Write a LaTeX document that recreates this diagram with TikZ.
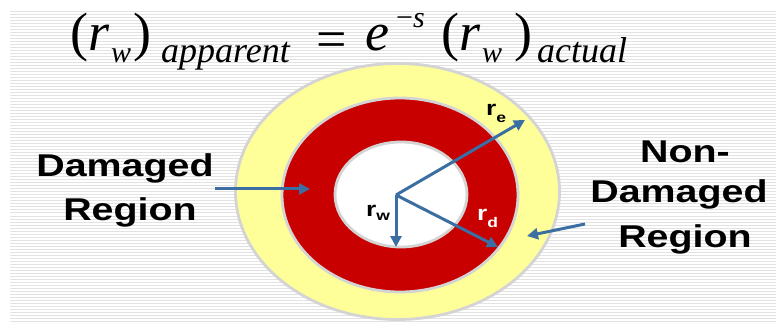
\documentclass[tikz,border=0pt]{standalone}
\usepackage{fontspec}
\usetikzlibrary{arrows.meta}
\newfontfamily\eqfont{Liberation Serif}
\newfontfamily\lblfont[FakeStretch=1.25]{Liberation Sans}
\definecolor{ringred}{HTML}{C80000}
\definecolor{ringyellow}{HTML}{FFFF99}
\definecolor{ringgray}{HTML}{D4D4D4}
\definecolor{arrowblue}{HTML}{3B6EA3}
\definecolor{stripegray}{HTML}{E2E2E2}
\begin{document}
\begin{tikzpicture}[x=1pt,y=-1pt,
  stripe/.style={stripegray, line width=1pt},
  ring/.style={draw=ringgray, line width=2.8pt},
  ptr/.style={arrowblue, line width=3pt, -{Triangle[length=11pt,width=11pt]}},
  eqbig/.style={inner sep=0pt, anchor=base west, font=\eqfont\fontsize{54}{54}\selectfont},
  eqsub/.style={inner sep=0pt, anchor=base west, font=\eqfont\itshape\fontsize{30}{30}\selectfont},
  eqword/.style={inner sep=0pt, anchor=base west, font=\eqfont\itshape\fontsize{36}{36}\selectfont},
  lbl/.style={inner sep=0pt, anchor=base, font=\lblfont\bfseries\fontsize{31.5}{31.5}\selectfont},
  rlbl/.style={inner sep=0pt, anchor=base west, font=\lblfont\bfseries\fontsize{21}{21}\selectfont}
]
\useasboundingbox (0,0) rectangle (776,323);
\fill[white] (0,0) rectangle (776,323);
% background stripes
\foreach \i in {12,15,...,321} \draw[stripe] (10,\i) -- (776,\i);
% rings
\draw[ring, fill=ringyellow] (397.5,191.5) ellipse [x radius=162pt, y radius=128pt];
\draw[ring, fill=ringred] (400,195) ellipse [x radius=118pt, y radius=97pt];
\draw[ring, fill=white] (401,194.5) ellipse [x radius=66pt, y radius=52.5pt];
% equation
\node[eqbig] (eqa) at (70,51) {(\textit{r}};
\node[eqsub] (eqb) at (111,63) {w};
\node[eqbig] (eqc) at (133,51) {)};
\node[eqword] (eqd) at (161,63) {apparent};
\node[eqbig] (eqe) at (316,58) {=};
\node[eqbig] (eqf) at (365,51) {\textit{e}};
\node[eqsub] (eqg) at (396,28) {\upshape−\itshape s};
\node[eqbig] (eqh) at (441,51) {(\textit{r}};
\node[eqsub] (eqi) at (482,63) {w};
\node[eqbig] (eqj) at (514,51) {)};
\node[eqword] (eqk) at (537,63) {actual};
% region labels
\node[lbl] (dmg1) at (125,177) {Damaged};
\node[lbl] (dmg2) at (130,220) {Region};
\node[lbl] (nd1) at (685,163) {Non-};
\node[lbl] (nd2) at (679,203) {Damaged};
\node[lbl] (nd3) at (685,247) {Region};
% radius labels
\node[rlbl] (re) at (486,116) {r\raisebox{-7pt}{\fontsize{14}{14}\selectfont e}};
\node[rlbl] (rw) at (366,216) {r\raisebox{-4pt}{\fontsize{14}{14}\selectfont w}};
\node[rlbl, text=white] (rd) at (477,220) {r\raisebox{-7pt}{\fontsize{14}{14}\selectfont d}};
% arrows
\coordinate (c) at (396,195);
\coordinate (tipE) at (525,120);
\coordinate (tipD) at (498,247);
\coordinate (tipW) at (396,247);
\coordinate (tailL) at (215,189);
\coordinate (tipL) at (310,189);
\coordinate (tailR) at (585,224);
\coordinate (tipR) at (527,236);
\draw[ptr] (c) -- (tipE);
\draw[ptr] (c) -- (tipD);
\draw[ptr] (c) -- (tipW);
\draw[ptr] (tailL) -- (tipL);
\draw[ptr] (tailR) -- (tipR);
\end{tikzpicture}
\end{document}
